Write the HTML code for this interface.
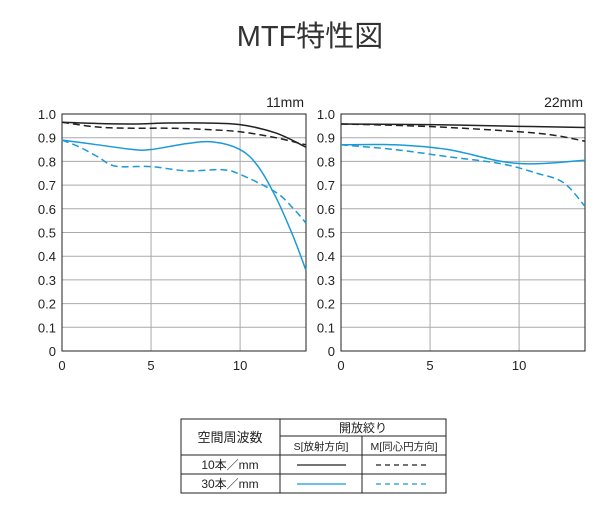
<!DOCTYPE html>
<html><head><meta charset="utf-8">
<style>
body{margin:0;background:#fff;width:604px;height:523px;overflow:hidden;font-family:"Liberation Sans","Noto Sans CJK JP",sans-serif;}
svg text{font-family:"Liberation Sans","Noto Sans CJK JP",sans-serif;}
</style></head><body>
<svg id="c" width="604" height="523" viewBox="0 0 604 523">
<text x="310" y="46" text-anchor="middle" font-size="29" fill="#333">MTF特性図</text>
<g id="table">
<rect x="181" y="419" width="265" height="74" fill="none" stroke="#222" stroke-width="1"/>
<line x1="280" y1="419" x2="280" y2="493" stroke="#222"/>
<line x1="362" y1="436" x2="362" y2="493" stroke="#222"/>
<line x1="280" y1="436" x2="446" y2="436" stroke="#222"/>
<line x1="181" y1="455" x2="446" y2="455" stroke="#222"/>
<line x1="181" y1="474" x2="446" y2="474" stroke="#222"/>
<text x="230" y="442" text-anchor="middle" font-size="13" fill="#222">空間周波数</text>
<text x="363" y="432" text-anchor="middle" font-size="12" fill="#222">開放絞り</text>
<text x="321" y="450" text-anchor="middle" font-size="10.5" fill="#222">S[放射方向]</text>
<text x="404" y="450" text-anchor="middle" font-size="10.5" fill="#222">M[同心円方向]</text>
<text x="230" y="469" text-anchor="middle" font-size="12" fill="#222">10本／mm</text>
<text x="230" y="488" text-anchor="middle" font-size="12" fill="#222">30本／mm</text>
<line x1="297" y1="465" x2="346" y2="465" stroke="#222" stroke-width="1.3"/>
<line x1="376" y1="465" x2="428" y2="465" stroke="#222" stroke-width="1.3" stroke-dasharray="5,4"/>
<line x1="297" y1="484" x2="346" y2="484" stroke="#1a9ad6" stroke-width="1.3"/>
<line x1="376" y1="484" x2="428" y2="484" stroke="#1a9ad6" stroke-width="1.3" stroke-dasharray="5,4"/>
</g>
</svg>
<script>
const yTicks=[0,0.1,0.2,0.3,0.4,0.5,0.6,0.7,0.8,0.9,1.0];
const yTickLabels=["0","0.1","0.2","0.3","0.4","0.5","0.6","0.7","0.8","0.9","1.0"];
const xTicks=[0,5,10];
const xMax=13.7;
const chartLabels=["11mm","22mm"];
const l10sX=[0,2,4,6,8,10,12,13.7];
const l10sY=[0.965,0.96,0.958,0.962,0.962,0.955,0.92,0.86];
const l10mX=[0,2,4,6,8,10,12,13.7];
const l10mY=[0.965,0.945,0.94,0.94,0.935,0.925,0.9,0.87];
const l30sX=[0,2,4,5,7,8.5,10,11,12,13,13.7];
const l30sY=[0.89,0.87,0.85,0.85,0.875,0.882,0.85,0.78,0.65,0.48,0.34];
const l30mX=[0,1,2,3,5,7,9,10,12,13,13.7];
const l30mY=[0.89,0.86,0.82,0.78,0.778,0.76,0.765,0.745,0.67,0.6,0.54];
const r10sX=[0,5,10,13.7];
const r10sY=[0.958,0.955,0.948,0.943];
const r10mX=[0,5,10,12,13.7];
const r10mY=[0.958,0.947,0.925,0.91,0.885];
const r30sX=[0,3,6,9,11,13.7];
const r30sY=[0.87,0.87,0.85,0.8,0.79,0.805];
const r30mX=[0,3,6,9,11,12.5,13.7];
const r30mY=[0.87,0.85,0.82,0.79,0.75,0.71,0.61];
const NS="http://www.w3.org/2000/svg";
const svg=document.getElementById('c');
function mk(t,a,p){const e=document.createElementNS(NS,t);for(const k in a)e.setAttribute(k,a[k]);(p||svg).appendChild(e);return e;}
function panel(x0,x1,label,series,pname){
 const top=114,bot=351;
 const g=mk('g',{});
 
 
 const sx=v=>x0+v*(x1-x0)/xMax, sy=v=>bot-v*(bot-top);
 yTicks.forEach((v,i)=>{
  if(i>0&&i<yTicks.length-1){const ln=mk('line',{x1:x0,x2:x1,y1:sy(v),y2:sy(v),stroke:'#aaa','stroke-width':1},g);
  
  }
  const t=mk('text',{x:x0-6,y:sy(v)+5,'text-anchor':'end','font-size':13,fill:'#222'},g);
  
  
  t.textContent=yTickLabels[i];
 });
 xTicks.forEach(v=>{
  if(v>0){const ln=mk('line',{x1:sx(v),x2:sx(v),y1:top,y2:bot,stroke:'#aaa','stroke-width':1},g);
  
  }
  const t=mk('text',{x:sx(v),y:bot+19,'text-anchor':'middle','font-size':13,fill:'#222'},g);
  
  
  t.textContent=v;
 });
 const fr=mk('rect',{x:x0,y:top,width:x1-x0,height:bot-top,fill:'none',stroke:'#222','stroke-width':1},g);
 
 
 const lt=mk('text',{x:x1-2,y:top-7,'text-anchor':'end','font-size':14,fill:'#222'},g);
 
 
 lt.textContent=label;
 series.forEach(s=>{
  const p=s.x.map((v,i)=>[sx(v),sy(s.y[i])]);
  let d='M'+p[0][0]+','+p[0][1];
  for(let i=0;i<p.length-1;i++){
   const a=p[i-1]||p[i],b=p[i],c=p[i+1],e=p[i+2]||c;
   d+=' C'+(b[0]+(c[0]-a[0])/6)+','+(b[1]+(c[1]-a[1])/6)+' '+(c[0]-(e[0]-b[0])/6)+','+(c[1]-(e[1]-b[1])/6)+' '+c[0]+','+c[1];
  }
  const el=mk('path',{d:d,fill:'none',stroke:s.c,'stroke-width':1.5,'stroke-dasharray':s.dash?'7,4':'none'},g);
  
  
 });
}
panel(62,306,chartLabels[0],[
 {x:l10sX,y:l10sY,c:'#222',dash:false,n:'line-11mm-10-s'},
 {x:l10mX,y:l10mY,c:'#222',dash:true,n:'line-11mm-10-m'},
 {x:l30sX,y:l30sY,c:'#1a9ad6',dash:false,n:'line-11mm-30-s'},
 {x:l30mX,y:l30mY,c:'#1a9ad6',dash:true,n:'line-11mm-30-m'}],'panel-11mm');
panel(341,585,chartLabels[1],[
 {x:r10sX,y:r10sY,c:'#222',dash:false,n:'line-22mm-10-s'},
 {x:r10mX,y:r10mY,c:'#222',dash:true,n:'line-22mm-10-m'},
 {x:r30sX,y:r30sY,c:'#1a9ad6',dash:false,n:'line-22mm-30-s'},
 {x:r30mX,y:r30mY,c:'#1a9ad6',dash:true,n:'line-22mm-30-m'}],'panel-22mm');
</script>
</body></html>
